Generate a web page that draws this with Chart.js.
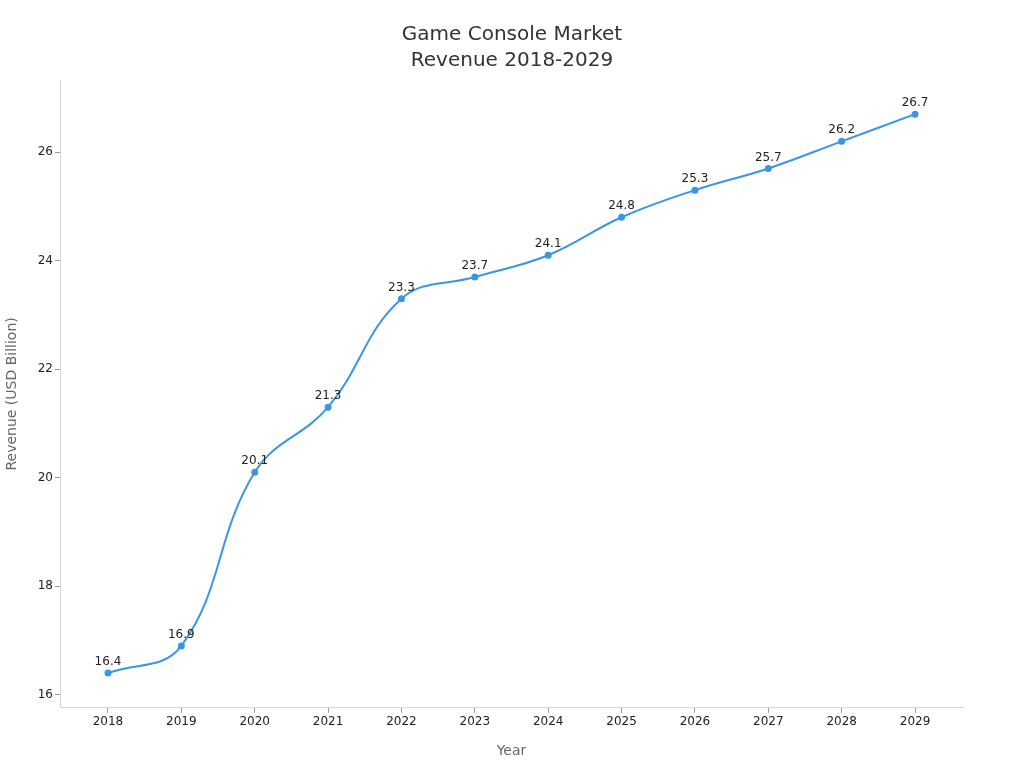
<!DOCTYPE html>
<html>
<head>
    <title>Game Console Market Revenue 2018-2029</title>
    <script src="https://cdn.jsdelivr.net/npm/chart.js"></script>
    <style>
        html, body { margin: 0; padding: 0; background: #fff; }
        #wrap { width: 1024px; height: 768px; }
    </style>
</head>
<body>
    <div id="wrap"><canvas id="myChart"></canvas></div>
    <script>
        // Data
        const years = [2018, 2019, 2020, 2021, 2022, 2023, 2024, 2025, 2026, 2027, 2028, 2029];
        const revenue = [16.4, 16.9, 20.1, 21.3, 23.3, 23.7, 24.1, 24.8, 25.3, 25.7, 26.2, 26.7];
        const yTicks = [16, 18, 20, 22, 24, 26];

        const lineColor = '#3b95e6';
        const fontFamily = 'DejaVu Sans, sans-serif';

        // Value labels above each point
        const pointLabels = {
            id: 'pointLabels',
            afterDatasetsDraw(chart) {
                const ctx = chart.ctx;
                const meta = chart.getDatasetMeta(0);
                ctx.save();
                ctx.font = '12px ' + fontFamily;
                ctx.fillStyle = '#222';
                ctx.textAlign = 'center';
                ctx.textBaseline = 'bottom';
                meta.data.forEach((pt, i) => {
                    ctx.fillText(revenue[i].toFixed(1), pt.x, pt.y - 5);
                });
                ctx.restore();
            }
        };

        const ctx = document.getElementById('myChart').getContext('2d');
        new Chart(ctx, {
            type: 'line',
            data: {
                datasets: [{
                    data: years.map((y, i) => ({ x: y, y: revenue[i] })),
                    borderColor: lineColor,
                    backgroundColor: lineColor,
                    borderWidth: 2,
                    pointRadius: 2.5,
                    pointHoverRadius: 3,
                    tension: 0.4,
                    fill: false
                }]
            },
            options: {
                responsive: true,
                maintainAspectRatio: false,
                animation: false,
                layout: { padding: { top: 0, right: 0, bottom: 8, left: 0 } },
                scales: {
                    x: {
                        type: 'linear',
                        min: 2017.346,
                        max: 2029.654,
                        afterBuildTicks: s => { s.ticks = years.map(v => ({ value: v })); },
                        grid: {
                            display: true,
                            drawOnChartArea: false,
                            drawTicks: true,
                            tickLength: 5,
                            color: '#999'
                        },
                        border: { color: '#d6d6d6' },
                        ticks: {
                            color: '#222',
                            font: { family: fontFamily, size: 12 },
                            padding: 2,
                            callback: v => String(v)
                        },
                        title: {
                            display: true,
                            text: 'Year',
                            color: '#666',
                            font: { family: fontFamily, size: 14 },
                            padding: { top: 12, bottom: 0 }
                        }
                    },
                    y: {
                        min: 15.76,
                        max: 27.33,
                        afterBuildTicks: s => { s.ticks = yTicks.map(v => ({ value: v })); },
                        afterFit: s => { s.width = 60; },
                        grid: {
                            display: true,
                            drawOnChartArea: false,
                            drawTicks: true,
                            tickLength: 5,
                            color: '#999'
                        },
                        border: { color: '#d6d6d6' },
                        ticks: {
                            color: '#222',
                            font: { family: fontFamily, size: 12 },
                            padding: 2
                        },
                        title: {
                            display: true,
                            text: 'Revenue (USD Billion)',
                            color: '#666',
                            font: { family: fontFamily, size: 14 },
                            padding: { top: 4, bottom: 0 }
                        }
                    },
                    // empty spacer on the right so the title stays centred on the page
                    yRight: {
                        position: 'right',
                        display: true,
                        afterFit: s => { s.width = 61; },
                        grid: { display: false },
                        border: { display: false },
                        ticks: { display: false }
                    }
                },
                plugins: {
                    legend: { display: false },
                    tooltip: { enabled: false },
                    title: {
                        display: true,
                        text: ['Game Console Market', 'Revenue 2018-2029'],
                        color: '#333',
                        font: { family: fontFamily, size: 20, weight: 'normal', lineHeight: 1.3 },
                        padding: { top: 22, bottom: 6 }
                    }
                }
            },
            plugins: [pointLabels]
        });
    </script>
</body>
</html>
